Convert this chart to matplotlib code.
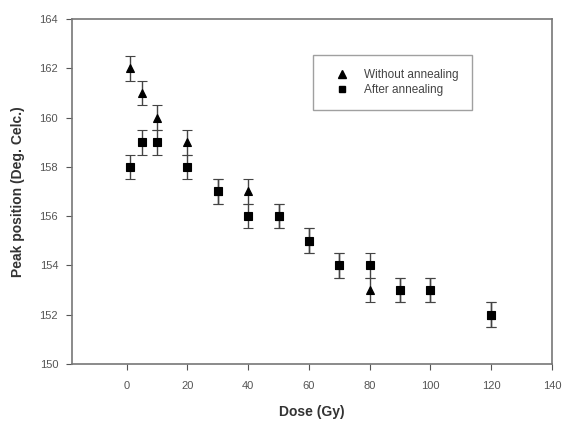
import numpy as np
import matplotlib
matplotlib.use('Agg')
import matplotlib.pyplot as plt
from matplotlib.lines import Line2D

plt.rcParams['font.family'] = ['Liberation Sans', 'DejaVu Sans']

# Data
dose = [1, 5, 10, 20, 30, 40, 50, 60, 70, 80, 90, 100, 120]
without_annealing = [162, 161, 160, 159, 157, 157, 156, 155, 154, 153, 153, 153, 152]
after_annealing = [158, 159, 159, 158, 157, 156, 156, 155, 154, 154, 153, 153, 152]
err = [0.5] * len(dose)

fig = plt.figure(figsize=(5.63, 4.23), dpi=100)
ax = fig.add_axes([72 / 563, 1 - 364 / 423, (552 - 72) / 563, (364 - 19) / 423])

ax.errorbar(dose, without_annealing, yerr=err, fmt='^', color='black', ms=6, mew=0.8,
            ecolor='#444444', elinewidth=1, capsize=3.6, capthick=1)
ax.errorbar(dose, after_annealing, yerr=err, fmt='s', color='black', ms=6.3, mew=0.8,
            ecolor='#444444', elinewidth=1, capsize=3.6, capthick=1)

ax.set_xlim(-18, 140)
ax.set_ylim(150, 164)
ax.set_xticks(np.arange(0, 141, 20))
ax.set_yticks(np.arange(150, 165, 2))

for s in ax.spines.values():
    s.set_color('#777777')
    s.set_linewidth(1.2)
ax.tick_params(direction='out', length=4, color='#555555', labelcolor='#555555',
               labelsize=8, top=False, right=False)
ax.tick_params(axis='x', pad=8)
ax.tick_params(axis='y', pad=6)

ax.set_xlabel('Dose (Gy)', fontsize=10, fontweight='bold', color='#333333', labelpad=10)
ax.set_ylabel('Peak position (Deg. Celc.)', fontsize=10, fontweight='bold', color='#333333', labelpad=10)

handles = [Line2D([], [], ls='none', marker='^', color='black', ms=5.5),
           Line2D([], [], ls='none', marker='s', color='black', ms=5)]
leg = ax.legend(handles, ['Without annealing', 'After annealing'],
                loc='upper left', bbox_to_anchor=((313 - 72) / 480, 1 - (55 - 19) / 345),
                frameon=True, fancybox=False, fontsize=8.5, handletextpad=0.6,
                handlelength=2.5, borderpad=1.2, labelspacing=0.25, borderaxespad=0)
leg.get_frame().set_edgecolor('#888888')
for t in leg.get_texts():
    t.set_color('#444444')

fig.savefig('out.png', dpi=100)
